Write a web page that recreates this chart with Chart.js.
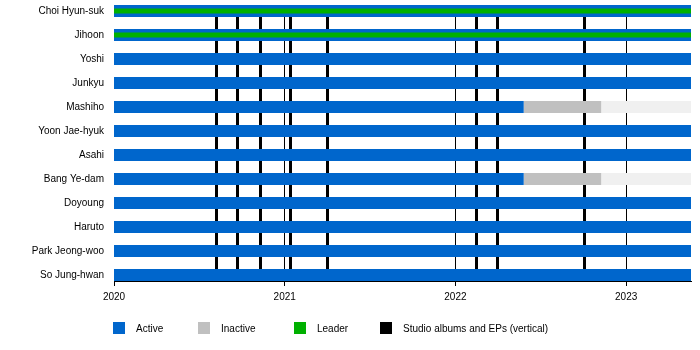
<!DOCTYPE html>
<html>
<head>
<meta charset="utf-8">
<script src="https://cdn.jsdelivr.net/npm/chart.js@4/dist/chart.umd.min.js"></script>
<style>
  html, body { margin: 0; padding: 0; background: #fff; }
  #wrap { width: 700px; height: 350px; }
</style>
</head>
<body>
<div id="wrap"><canvas id="timeline" width="700" height="350"></canvas></div>
<script>
// members, top to bottom
const members = ['Choi Hyun-suk', 'Jihoon', 'Yoshi', 'Junkyu', 'Mashiho', 'Yoon Jae-hyuk',
  'Asahi', 'Bang Ye-dam', 'Doyoung', 'Haruto', 'Park Jeong-woo', 'So Jung-hwan'];

// dates as decimal years
const startYear = 2020;
const endYear = 2023.38;
const activeEnd = [2023.38, 2023.38, 2023.38, 2023.38, 2022.40, 2023.38,
  2023.38, 2022.40, 2023.38, 2023.38, 2023.38, 2023.38];
const inactiveSpans = [[4, 2022.40, 2022.854], [7, 2022.40, 2022.854]];
const formerSpans = [[4, 2022.854, 2023.38], [7, 2022.854, 2023.38]];
const leaderRows = [0, 1];
const albumDates = [2020.60, 2020.719, 2020.854, 2021.03, 2021.25, 2022.12, 2022.245, 2022.754];
const yearTicks = [2020, 2021, 2022, 2023];

const legendNames = ['Active', 'Inactive', 'Leader', 'Studio albums and EPs (vertical)'];
const legendColors = ['#0066cc', '#c0c0c0', '#00b000', '#000000'];

const FONT = "'Liberation Sans', Arial, sans-serif";

// vertical album release lines, drawn under the bars
const albumLines = {
  id: 'albumLines',
  beforeDatasetsDraw(chart) {
    const { ctx, chartArea, scales } = chart;
    ctx.save();
    ctx.strokeStyle = '#000';
    ctx.lineWidth = 3;
    albumDates.forEach(d => {
      const x = Math.round(scales.x.getPixelForValue(d)) + 0.5;
      ctx.beginPath();
      ctx.moveTo(x, chartArea.top);
      ctx.lineTo(x, chartArea.bottom);
      ctx.stroke();
    });
    ctx.restore();
  }
};

// legend row under the axis
const legendRow = {
  id: 'legendRow',
  afterDraw(chart) {
    const ctx = chart.ctx;
    const xs = [113, 198, 294, 380];
    ctx.save();
    ctx.font = '10px ' + FONT;
    ctx.textBaseline = 'middle';
    legendNames.forEach((name, i) => {
      ctx.fillStyle = legendColors[i];
      ctx.fillRect(xs[i], 322, 12, 12);
      ctx.fillStyle = '#000';
      ctx.fillText(name, xs[i] + 23, 329);
    });
    ctx.restore();
  }
};

// no label overflow padding, keep the plot box fixed
const noPad = s => {
  s.paddingTop = 0; s.paddingBottom = 0; s.paddingLeft = 0; s.paddingRight = 0;
};

const activeData = members.map((m, i) => ({ y: i, x: [startYear, activeEnd[i]] }));
const inactiveData = inactiveSpans.map(s => ({ y: s[0], x: [s[1], s[2]] }));
const formerData = formerSpans.map(s => ({ y: s[0], x: [s[1], s[2]] }));
const leaderData = leaderRows.map(r => ({ y: r, x: [startYear, endYear] }));

const ctx = document.getElementById('timeline');
new Chart(ctx, {
  type: 'bar',
  data: {
    datasets: [
      { label: 'Leader', data: leaderData, backgroundColor: legendColors[2], barThickness: 5, order: 0 },
      { label: 'Active', data: activeData, backgroundColor: legendColors[0], barThickness: 12, order: 1 },
      { label: 'Inactive', data: inactiveData, backgroundColor: legendColors[1], barThickness: 12, order: 1 },
      { label: 'Former', data: formerData, backgroundColor: '#f0f0f0', barThickness: 12, order: 1 }
    ]
  },
  options: {
    indexAxis: 'y',
    responsive: false,
    animation: false,
    layout: { padding: { top: 5, right: 9, left: 0, bottom: 0 } },
    datasets: { bar: { grouped: false, borderWidth: 0, inflateAmount: 0 } },
    plugins: { legend: { display: false }, tooltip: { enabled: false } },
    scales: {
      x: {
        type: 'linear',
        offset: false,
        min: startYear,
        max: endYear,
        afterBuildTicks: s => { s.ticks = yearTicks.map(v => ({ value: v })); },
        afterFit: s => { s.height = 69; noPad(s); },
        grid: {
          color: c => (c.tick && c.tick.value === startYear) ? 'rgba(0,0,0,0)' : '#000',
          tickColor: '#000',
          lineWidth: 1,
          tickLength: 5
        },
        border: { color: '#000', width: 1 },
        ticks: { color: '#000', font: { family: FONT, size: 10 }, padding: 5, maxRotation: 0,
          callback: v => String(v) }
      },
      y: {
        type: 'linear',
        offset: false,
        reverse: true,
        min: -0.25,
        max: 11.25,
        afterBuildTicks: s => { s.ticks = members.map((m, i) => ({ value: i })); },
        afterFit: s => { s.width = 114; noPad(s); },
        grid: { display: false, drawTicks: false },
        border: { display: false },
        ticks: { color: '#000', font: { family: FONT, size: 10 }, padding: 10, autoSkip: false,
          callback: v => members[v] }
      }
    }
  },
  plugins: [albumLines, legendRow]
});
</script>
</body>
</html>
